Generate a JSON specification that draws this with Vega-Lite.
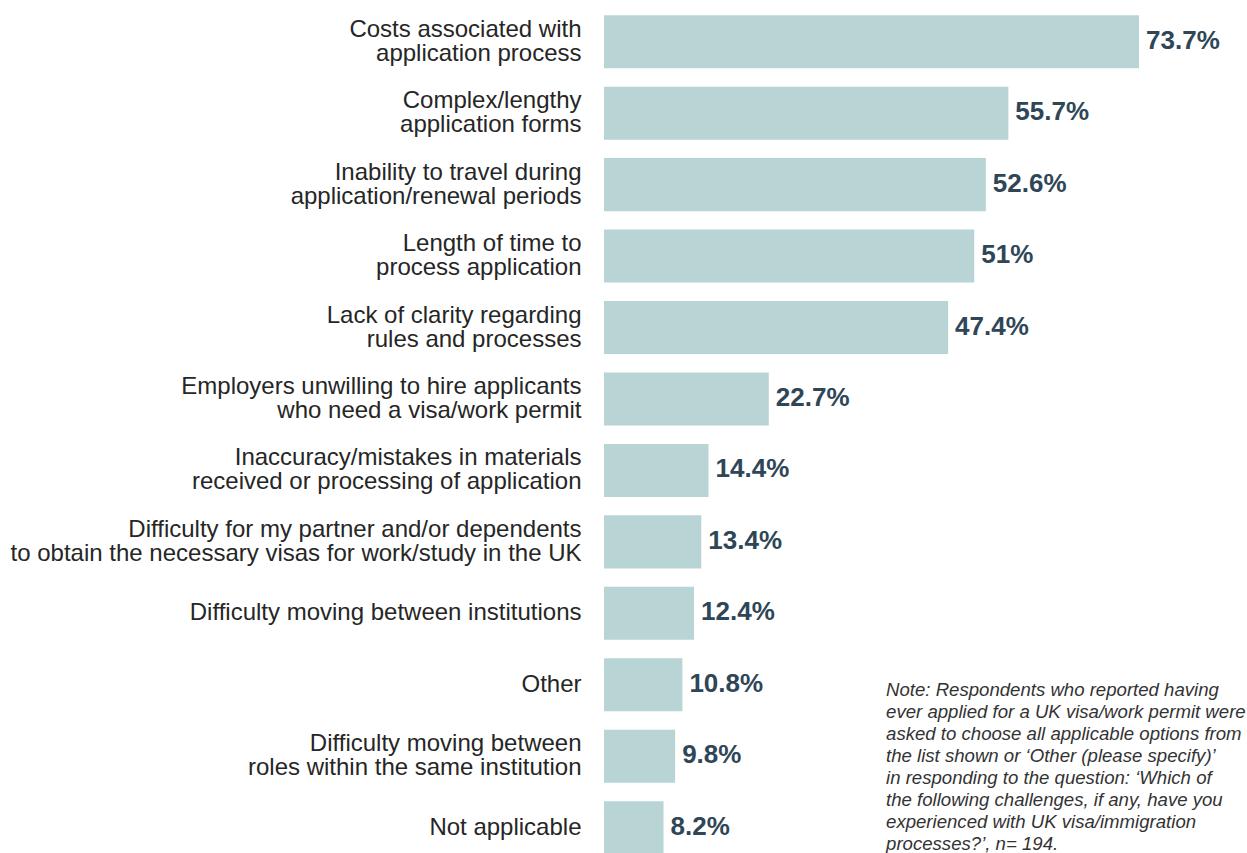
{
  "$schema": "https://vega.github.io/schema/vega-lite/v6.json",
  "autosize": {"type": "none"},
  "width": 643,
  "height": 847,
  "padding": {"left": 604, "top": 6, "right": 0, "bottom": 0},
  "background": "white",
  "config": {"view": {"stroke": null}, "font": "Liberation Sans"},
  "datasets": {
    "bars": [
      {"cat": "Costs associated with\napplication process", "pct": 73.7, "label": "73.7%"},
      {"cat": "Complex/lengthy\napplication forms", "pct": 55.7, "label": "55.7%"},
      {"cat": "Inability to travel during\napplication/renewal periods", "pct": 52.6, "label": "52.6%"},
      {"cat": "Length of time to\nprocess application", "pct": 51.0, "label": "51%"},
      {"cat": "Lack of clarity regarding\nrules and processes", "pct": 47.4, "label": "47.4%"},
      {"cat": "Employers unwilling to hire applicants\nwho need a visa/work permit", "pct": 22.7, "label": "22.7%"},
      {"cat": "Inaccuracy/mistakes in materials\nreceived or processing of application", "pct": 14.4, "label": "14.4%"},
      {"cat": "Difficulty for my partner and/or dependents\nto obtain the necessary visas for work/study in the UK", "pct": 13.4, "label": "13.4%"},
      {"cat": "Difficulty moving between institutions", "pct": 12.4, "label": "12.4%"},
      {"cat": "Other", "pct": 10.8, "label": "10.8%"},
      {"cat": "Difficulty moving between\nroles within the same institution", "pct": 9.8, "label": "9.8%"},
      {"cat": "Not applicable", "pct": 8.2, "label": "8.2%"}
    ],
    "note": [
      {"cat": "Other", "x": 38.85, "text": "Note: Respondents who reported having\never applied for a UK visa/work permit were\nasked to choose all applicable options from\nthe list shown or  ‘Other (please specify)’\nin responding to the question: ‘Which of\nthe following challenges, if any, have you\nexperienced with UK visa/immigration\nprocesses?’, n= 194."}
    ]
  },
  "layer": [
    {
      "data": {"name": "bars"},
      "mark": {"type": "bar", "color": "#b9d4d5", "clip": true},
      "encoding": {
        "y": {
          "field": "cat", "type": "nominal", "sort": null,
          "scale": {"range": [0, 857.4], "paddingInner": 0.258, "paddingOuter": 0.129},
          "axis": {
            "title": null, "domain": false, "ticks": false,
            "labelPadding": 23, "labelFontSize": 24, "labelColor": "#262626",
            "labelLineHeight": 24, "labelLimit": 700,
            "labelOffset": {"condition": {"test": "indexof(datum.value, '\\n') >= 0", "value": -12}, "value": 0},
            "labelExpr": "split(datum.value, '\\n')"
          }
        },
        "x": {
          "field": "pct", "type": "quantitative",
          "scale": {"domain": [0, 88.57], "nice": false},
          "axis": null
        }
      }
    },
    {
      "data": {"name": "bars"},
      "mark": {"type": "text", "align": "left", "baseline": "middle", "dx": 7, "dy": -1, "fontSize": 26, "fontWeight": "bold", "color": "#2f4657"},
      "encoding": {
        "y": {"field": "cat", "type": "nominal", "sort": null},
        "x": {"field": "pct", "type": "quantitative"},
        "text": {"field": "label", "type": "nominal"}
      }
    },
    {
      "data": {"name": "note"},
      "mark": {"type": "text", "align": "left", "baseline": "top", "lineBreak": "\n", "lineHeight": 22, "fontSize": 18.6, "fontStyle": "italic", "color": "#333333", "dy": -4},
      "encoding": {
        "y": {"field": "cat", "type": "nominal", "sort": null},
        "x": {"field": "x", "type": "quantitative"},
        "text": {"field": "text", "type": "nominal"}
      }
    }
  ]
}
